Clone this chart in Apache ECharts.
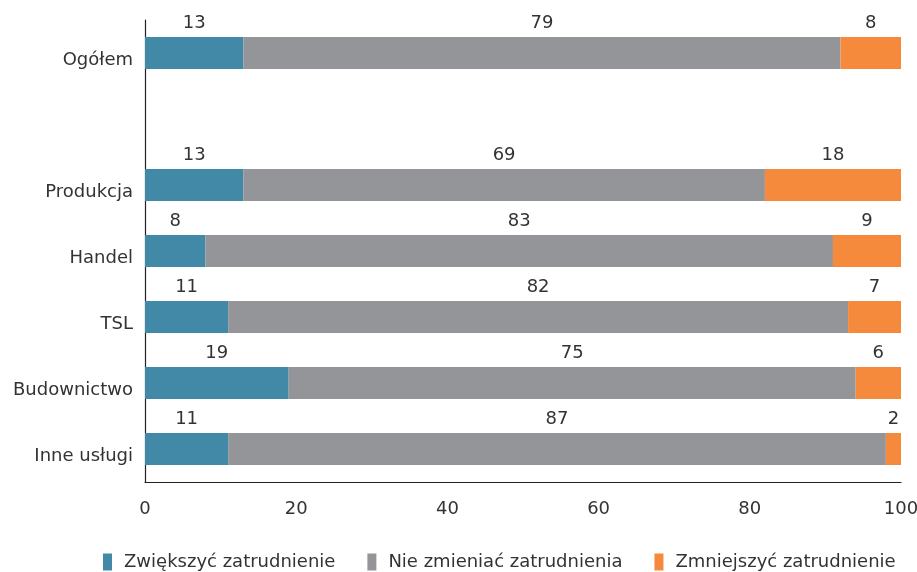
<!DOCTYPE html>
<html><head><meta charset="utf-8">
<script src="https://cdn.jsdelivr.net/npm/echarts@6/dist/echarts.min.js"></script>
<style>html,body{margin:0;padding:0;background:#fff}#c{width:917px;height:572px}</style>
</head><body><div id="c"></div>
<script>
const categories = ['Ogółem', '', 'Produkcja', 'Handel', 'TSL', 'Budownictwo', 'Inne usługi'];
const seriesNames = ['Zwiększyć zatrudnienie', 'Nie zmieniać zatrudnienia', 'Zmniejszyć zatrudnienie'];
const increase = [13, null, 13, 8, 11, 19, 11];
const noChange = [79, null, 69, 83, 82, 75, 87];
const decrease = [8, null, 18, 9, 7, 6, 2];
const xTicks = [0, 20, 40, 60, 80, 100];
const colors = ['#4189a6', '#939598', '#f58a3d'];
const FONT = '"DejaVu Sans", sans-serif';
const FS = 18;

const chart = echarts.init(document.getElementById('c'), null, {renderer: 'canvas'});
const dataSets = [increase, noChange, decrease];
chart.setOption({
  animation: false,
  grid: {left: 145, right: 16, top: 20, bottom: 90, containLabel: false, outerBoundsMode: 'none'},
  legend: {
    bottom: -4, left: 98,
    itemWidth: 9, itemHeight: 17, itemGap: 32,
    icon: 'rect',
    textStyle: {fontFamily: FONT, fontSize: FS, color: '#333', padding: [0, 0, 0, 7]},
    data: seriesNames
  },
  xAxis: {
    type: 'value', min: 0, max: 100, interval: 20,
    axisLine: {show: true, lineStyle: {color: '#222', width: 1.2}},
    axisTick: {show: false},
    splitLine: {show: false},
    axisLabel: {fontFamily: FONT, fontSize: FS, color: '#333', margin: 18,
      formatter: v => xTicks.includes(v) ? String(v) : ''}
  },
  yAxis: {
    type: 'category', inverse: true, data: categories,
    axisLine: {show: true, lineStyle: {color: '#222', width: 1.2}},
    axisTick: {show: false},
    axisLabel: {fontFamily: FONT, fontSize: FS, color: '#333', margin: 12,
      verticalAlign: 'top', lineHeight: 15}
  },
  series: seriesNames.map((n, i) => ({
    name: n, type: 'bar', stack: 'a', barWidth: 32,
    itemStyle: {color: colors[i]},
    label: {show: true, position: 'top', distance: 5, fontFamily: FONT, fontSize: FS, color: '#333'},
    data: dataSets[i]
  }))
});
</script></body></html>
